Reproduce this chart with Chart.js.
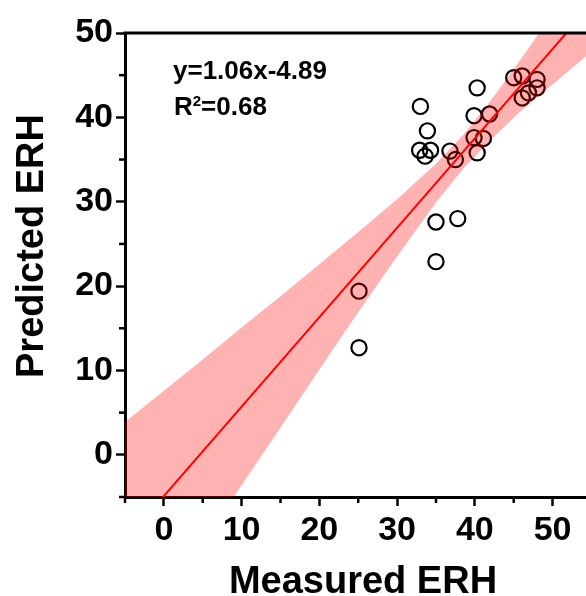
<!DOCTYPE html>
<html><head><meta charset="utf-8">
<script src="https://cdn.jsdelivr.net/npm/chart.js@4"></script>
<style>html,body{margin:0;padding:0;background:#fff}#wrap{width:586px;height:596px}</style>
</head><body><div id="wrap"><canvas id="c" width="586" height="596"></canvas></div>
<script>
// ---- data ----
const measured  = [25.1, 25.1, 33.0, 33.9, 32.9, 34.3, 33.6, 35.0, 35.0, 36.8, 37.5, 37.8, 40.3, 39.9, 41.9, 39.9, 41.1, 40.3, 45.0, 46.1, 48.0, 48.0, 46.1, 46.9];
const predicted = [19.4, 12.7, 41.3, 38.4, 36.1, 36.1, 35.4, 27.6, 22.9, 36.0, 35.0, 28.0, 43.5, 40.2, 40.4, 37.6, 37.5, 35.8, 44.7, 44.9, 44.5, 43.5, 42.3, 42.9];
const fitX = [-5, 55];
const fitY = [-10.19, 53.41];
const bandX     = [-5,   0,     5,     10,   15,  20,   25,   30,   35,   38.5, 42,   46,   50,   55];
const bandUpper = [3.9,  7.6,   11.3,  15.1, 18.8, 22.6, 26.4, 30.3, 34.5, 37.9, 41.9, 47.0, 52.3, 59.1];
const bandLower = [-24.3, -17.4, -10.5, -3.6, 3.2, 10.1, 16.9, 23.5, 29.9, 33.9, 37.3, 40.8, 43.9, 47.8];
const xTicks = [0, 10, 20, 30, 40, 50];
const yTicks = [0, 10, 20, 30, 40, 50];
const xMinorTicks = [-5, 5, 15, 25, 35, 45];
const yMinorTicks = [-5, 5, 15, 25, 35, 45];
const equationText = 'y=1.06x-4.89';
const r2Base = 'R', r2Sup = '2', r2Rest = '=0.68';
const xTitle = 'Measured ERH';
const yTitle = 'Predicted ERH';

const FONT = '"Liberation Sans", Arial, sans-serif';
const pts = measured.map((v, i) => ({x: v, y: predicted[i]}));
const fitPts = fitX.map((v, i) => ({x: v, y: fitY[i]}));
const upPts = bandX.map((v, i) => ({x: v, y: bandUpper[i]}));
const loPts = bandX.map((v, i) => ({x: v, y: bandLower[i]}));

const extras = {
  id: 'extras',
  afterDraw(chart) {
    const ctx = chart.ctx, a = chart.chartArea;
    const xs = chart.scales.x, ys = chart.scales.y;
    ctx.save();
    ctx.strokeStyle = '#000';
    ctx.lineWidth = 3;
    ctx.beginPath();
    ctx.moveTo(a.left - 1.5, a.top);
    ctx.lineTo(a.right + 2, a.top);
    ctx.stroke();
    ctx.lineWidth = 2.5;
    xMinorTicks.forEach(v => {
      const px = xs.getPixelForValue(v);
      ctx.beginPath(); ctx.moveTo(px, a.bottom); ctx.lineTo(px, a.bottom + 6); ctx.stroke();
    });
    yMinorTicks.forEach(v => {
      const py = ys.getPixelForValue(v);
      ctx.beginPath(); ctx.moveTo(a.left, py); ctx.lineTo(a.left - 6, py); ctx.stroke();
    });
    // annotation
    ctx.fillStyle = '#000';
    ctx.textBaseline = 'alphabetic';
    ctx.textAlign = 'left';
    ctx.font = 'bold 26px ' + FONT;
    ctx.fillText(equationText, 173, 79);
    let x0 = 174;
    ctx.fillText(r2Base, x0, 115);
    x0 += ctx.measureText(r2Base).width;
    ctx.font = 'bold 15px ' + FONT;
    ctx.fillText(r2Sup, x0, 106);
    x0 += ctx.measureText(r2Sup).width;
    ctx.font = 'bold 26px ' + FONT;
    ctx.fillText(r2Rest, x0, 115);
    // axis titles
    ctx.font = 'bold 38px ' + FONT;
    ctx.textAlign = 'center';
    ctx.fillText(xTitle, 363, 593);
    ctx.translate(43, 246);
    ctx.rotate(-Math.PI / 2);
    ctx.fillText(yTitle, 0, 0);
    ctx.restore();
  }
};

const tickFont = {family: FONT, size: 34, weight: 'bold'};

new Chart(document.getElementById('c'), {
  type: 'scatter',
  data: {
    datasets: [
      {data: fitPts, showLine: true, borderColor: '#ff0000', borderWidth: 2, pointRadius: 0, fill: false},
      {data: upPts, showLine: true, borderWidth: 0, borderColor: 'rgba(0,0,0,0)', pointRadius: 0, fill: '+1', backgroundColor: 'rgba(255,0,0,0.3)'},
      {data: loPts, showLine: true, borderWidth: 0, borderColor: 'rgba(0,0,0,0)', pointRadius: 0, fill: false},
      {data: pts, pointRadius: 7.6, pointBorderWidth: 2.2, pointBackgroundColor: 'rgba(0,0,0,0)', pointBorderColor: '#000', borderColor: '#000', backgroundColor: 'rgba(0,0,0,0)', pointStyle: 'circle'}
    ]
  },
  options: {
    responsive: false,
    animation: false,
    devicePixelRatio: 1,
    layout: {autoPadding: false, padding: {top: 33, right: 0, left: 0, bottom: 0}},
    plugins: {legend: {display: false}, tooltip: {enabled: false}},
    scales: {
      x: {
        type: 'linear', min: -5, max: 54.3,
        afterFit(s) { s.height = 99; s.paddingLeft = 0; s.paddingRight = 0; },
        afterBuildTicks(s) { s.ticks = xTicks.map(v => ({value: v})); },
        grid: {drawOnChartArea: false, drawTicks: true, tickLength: 9, tickWidth: 2.5, tickColor: '#000'},
        border: {display: true, color: '#000', width: 3},
        ticks: {font: tickFont, color: '#000', padding: 4, maxRotation: 0, autoSkip: false}
      },
      y: {
        type: 'linear', min: -5, max: 50,
        afterFit(s) { s.width = 125; s.paddingTop = 0; s.paddingBottom = 0; },
        afterBuildTicks(s) { s.ticks = yTicks.map(v => ({value: v})); },
        grid: {drawOnChartArea: false, drawTicks: true, tickLength: 9, tickWidth: 2.5, tickColor: '#000'},
        border: {display: true, color: '#000', width: 3},
        ticks: {font: tickFont, color: '#000', padding: 3, autoSkip: false}
      }
    }
  },
  plugins: [extras]
});
</script></body></html>
